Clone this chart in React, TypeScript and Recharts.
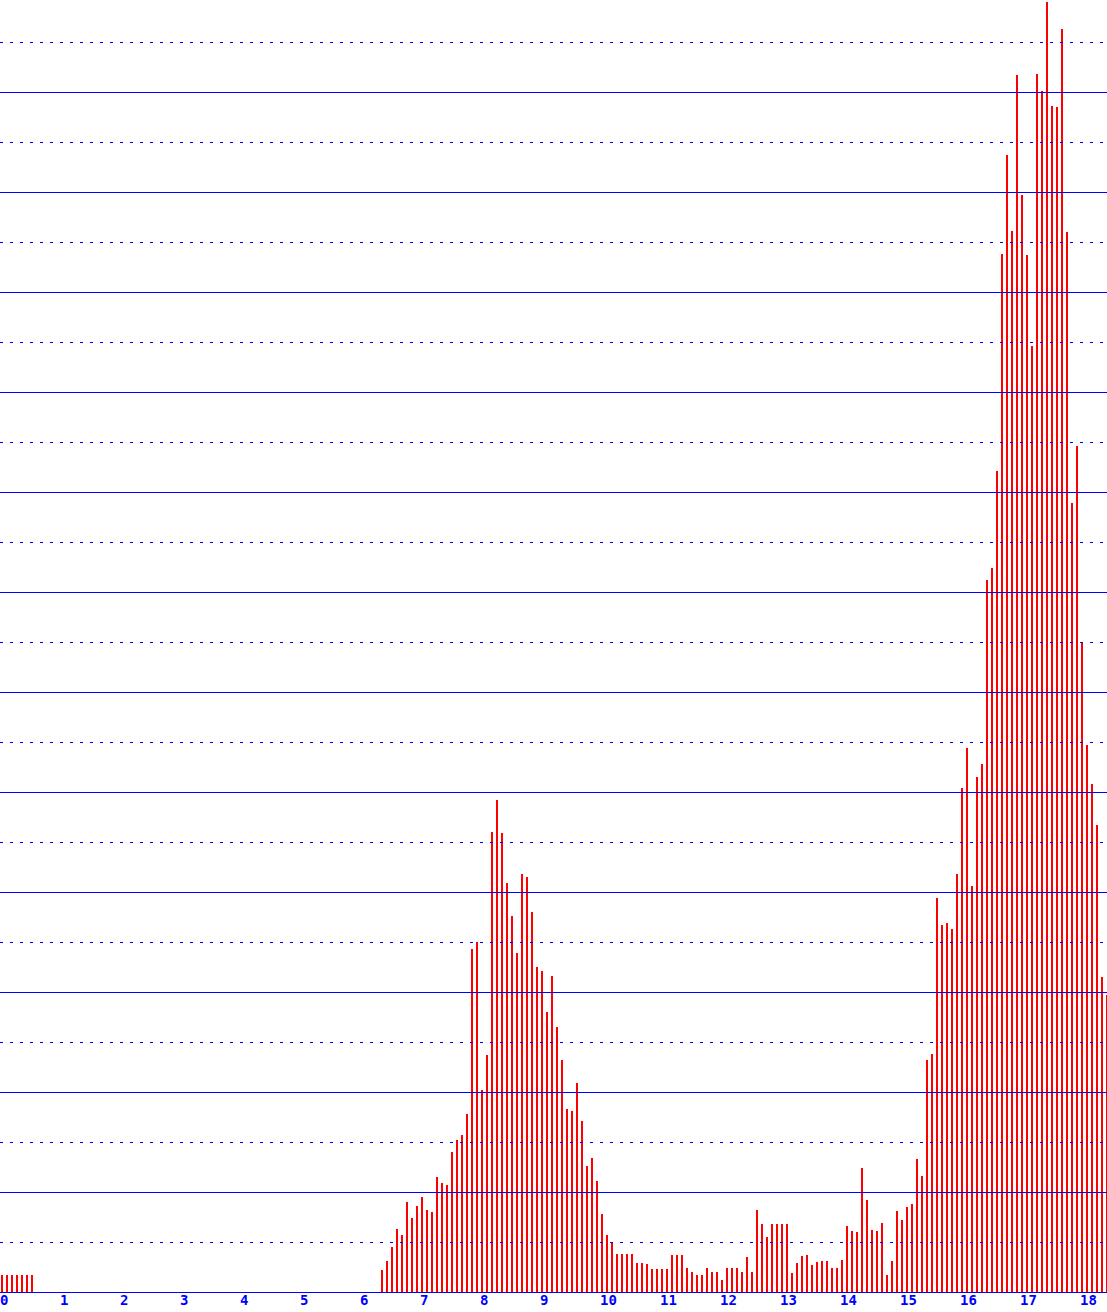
import { BarChart, Bar, XAxis, YAxis, ReferenceLine } from 'recharts'

// one bar per 5 minutes (pixel units above the baseline)
const slotValues = [
  17, 17, 17, 17, 17, 17, 17,
  0, 0, 0, 0, 0, 0, 0, 0, 0, 0, 0, 0, 0, 0, 0, 0, 0, 0, 0, 0, 0, 0, 0, 0,
  0, 0, 0, 0, 0, 0, 0, 0, 0, 0, 0, 0, 0, 0, 0, 0, 0, 0, 0, 0, 0, 0, 0, 0,
  0, 0, 0, 0, 0, 0, 0, 0, 0, 0, 0, 0, 0, 0, 0, 0, 0, 0, 0, 0, 0,
  22, 31, 45, 63, 57, 90, 74, 86, 95, 82, 80, 115, 109, 107, 140, 152, 157, 178,
  343, 350, 202, 237, 460, 492, 459, 409, 376, 339, 418, 415, 380, 325, 321, 280,
  316, 265, 232, 183, 181, 209, 171, 126, 134, 111, 78, 57, 50, 38, 38, 38, 38,
  29, 29, 28, 23, 23, 23, 23, 37, 37, 37, 24, 20, 17, 17, 24, 20, 20, 12, 24, 24,
  24, 20, 35, 20, 82, 68, 55, 68, 68, 68, 68, 19, 29, 36, 37, 27, 30, 31, 31, 24,
  24, 32, 66, 61, 60, 124, 92, 62, 61, 69, 17, 31, 81, 72, 85, 88, 133, 116, 232,
  238, 394, 367, 369, 363, 418, 504, 544, 406, 515, 528, 712, 724, 821, 1038, 1137,
  1061, 1217, 1097, 1037, 946, 1218, 1201, 1290, 1186, 1185, 1263, 1060, 789, 846,
  650, 547, 508, 467, 315, 297,
]

const hourLabels = ['0', '1', '2', '3', '4', '5', '6', '7', '8', '9', '10', '11', '12', '13', '14', '15', '16', '17', '18']
const slotsPerHour = 12

const solidLines = [0, 100, 200, 300, 400, 500, 600, 700, 800, 900, 1000, 1100, 1200]
const dottedLines = [50, 150, 250, 350, 450, 550, 650, 750, 850, 950, 1050, 1150, 1250]

const data = slotValues.map((v, i) => ({ slot: i, v }))
const hourTicks = hourLabels.map((_, i) => i * slotsPerHour)

const BLUE = '#0000ff'

function HourTick(props: any) {
  const { x, y, payload } = props
  return (
    <text x={x - 1.5} y={y + 13} textAnchor="start" fill={BLUE}
      fontFamily="'DejaVu Sans Mono', monospace" fontSize={14} fontWeight="bold">
      {hourLabels[payload.value / slotsPerHour]}
    </text>
  )
}

// keep the 2px bars on whole pixels
function CrispBar(p: any) {
  if (!p.height) return null
  return <rect x={Math.floor(p.x + 0.25)} y={Math.round(p.y)} width={2}
    height={Math.round(p.y + p.height) - Math.round(p.y)} fill="#ff0000" />
}

const gridLine = (dash?: string) => (p: any) => (
  <line x1={Math.max(p.x1, 0)} x2={p.x2} y1={p.y1 + 0.5} y2={p.y2 + 0.5}
    stroke={BLUE} strokeWidth={1} strokeDasharray={dash} />
)

export default function App() {
  return (
    <div style={{ width: 1107, height: 1312, overflow: 'hidden', background: '#fff' }}>
      <style>{'body{margin:0}'}</style>
      <BarChart width={1109} height={1312} data={data}
        margin={{ top: 0, right: 0, bottom: 0, left: -1 }}>
        <XAxis dataKey="slot" ticks={hourTicks} interval={0} axisLine={false}
          tickLine={false} tickSize={0} tickMargin={0} height={20} tick={<HourTick />} />
        <YAxis hide type="number" domain={[0, 1292]} allowDataOverflow />
        {dottedLines.map(v => (
          <ReferenceLine key={'d' + v} y={v} shape={gridLine('3 7')} />
        ))}
        {solidLines.filter(v => v > 0).map(v => (
          <ReferenceLine key={'s' + v} y={v} shape={gridLine()} />
        ))}
        <Bar dataKey="v" fill="#ff0000" barSize={2} shape={CrispBar} isAnimationActive={false} />
        <ReferenceLine y={0} shape={gridLine()} ifOverflow="visible" />
      </BarChart>
    </div>
  )
}
